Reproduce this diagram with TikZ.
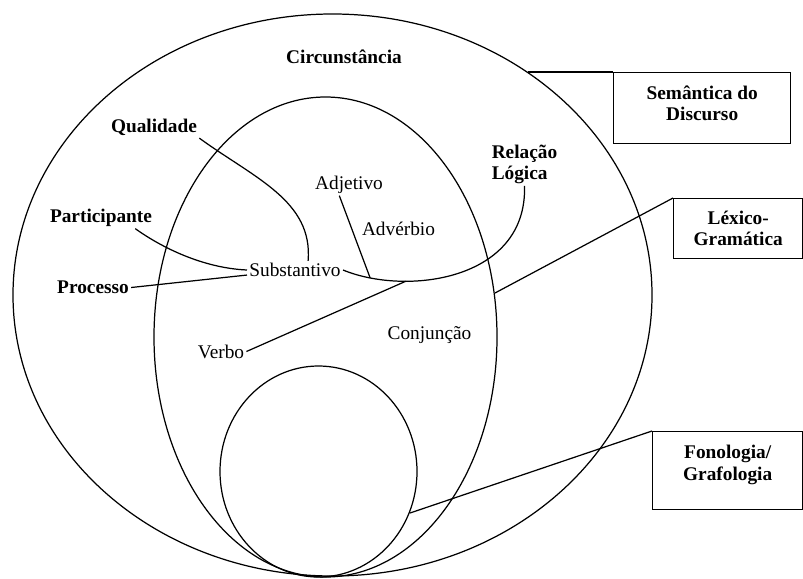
\documentclass[tikz,border=0pt]{standalone}
\usepackage{fontspec}
\setmainfont{Liberation Serif}

\begin{document}
\begin{tikzpicture}[x=0.02cm,y=-0.02cm,line width=0.7pt,
    lbl/.style={font=\fontsize{11}{12}\selectfont,inner sep=1pt},
    blbl/.style={font=\fontsize{11}{12}\selectfont\bfseries,inner sep=1pt},
    box/.style={draw,line width=0.8pt,anchor=north west,align=center,
      font=\fontsize{11}{12}\selectfont\bfseries}]
  \useasboundingbox (0,0) rectangle (803,578);
  % the three strata
  \draw (332.5,295) ellipse [x radius=319.5,y radius=281];
  \draw (325.5,337) ellipse [x radius=171.5,y radius=240];
  \draw (318.5,471.5) ellipse [x radius=98.5,y radius=105.5];
  % boxes on the right
  \node[box,minimum width=3.54cm,minimum height=1.42cm,text depth=5.6pt] (sem) at (613,72) {Semântica do\\Discurso};
  \node[box,minimum width=2.58cm,minimum height=1.2cm] (lex) at (673,198) {Léxico-\\Gramática};
  \node[box,minimum width=3cm,minimum height=1.56cm,text depth=9pt] (fon) at (652,431) {Fonologia/\\Grafologia};
  \coordinate (semE) at (528,72); \coordinate (lexE) at (495,293);
  \coordinate (fonE) at (410,513);
  \draw (sem.north west)--(semE);
  \draw (lex.north west)--(lexE);
  \draw (fon.north west)--(fonE);
  % labels
  \foreach \n/\x/\y/\t in {circ/344/57/Circunstância,qual/154/127.5/Qualidade,
      part/101/217.5/Participante,proc/93/287.5/Processo}
    \node[blbl] (\n) at (\x,\y) {\t};
  \node[blbl,align=left] (rel) at (524.5,164) {Relação\\Lógica};
  \foreach \n/\x/\y/\t in {subst/295/270/Substantivo,adj/349/184.5/Adjetivo,
      adv/398.5/228.5/Advérbio,verb/221/351.5/Verbo,conj/429.5/335.5/Conjunção}
    \node[lbl] (\n) at (\x,\y) {\t};
  % connections
  \draw (qual.south east) .. controls +(55,40) and +(5,-60) .. (subst.35);
  \draw (part.-18) .. controls +(25,18) and +(-45,-2) .. (subst.west);
  \draw (proc.east)--(subst.186);
  \draw (subst.east) .. controls +(63,26) and +(3,95) .. (rel.south)
    node[coordinate,pos=0.13] (adjJ) {} node[coordinate,pos=0.28] (verbJ) {};
  \draw (adj.-131)--(adjJ);
  \draw (verb.east)--(verbJ);
\end{tikzpicture}
\end{document}
